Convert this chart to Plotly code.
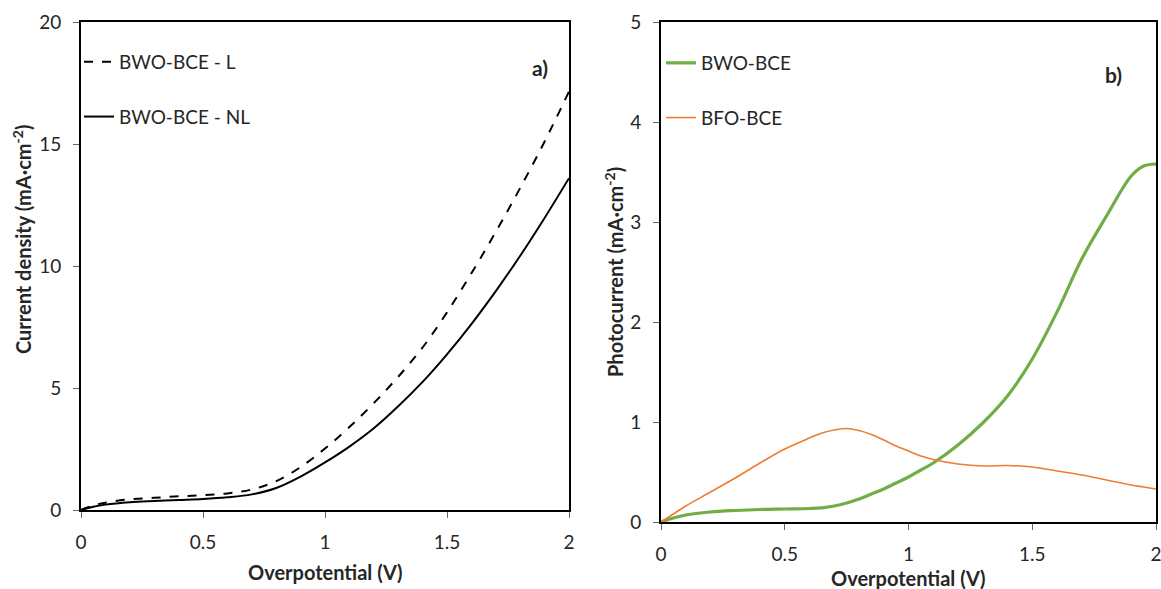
import plotly.graph_objects as go

# Panel a) data
v_a = [0, 0.05, 0.1, 0.2, 0.3, 0.4, 0.5, 0.6, 0.7, 0.8, 0.9, 1.0, 1.1, 1.2, 1.3, 1.4, 1.5, 1.6, 1.7, 1.8, 1.9, 2.0]
j_L = [0, 0.18, 0.3, 0.44, 0.5, 0.56, 0.61, 0.68, 0.84, 1.18, 1.76, 2.52, 3.4, 4.38, 5.46, 6.66, 8.1, 9.7, 11.4, 13.2, 15.1, 17.15]
j_NL = [0, 0.13, 0.22, 0.32, 0.37, 0.41, 0.45, 0.52, 0.64, 0.9, 1.37, 1.95, 2.6, 3.35, 4.25, 5.25, 6.38, 7.62, 8.97, 10.42, 11.97, 13.6]

# Panel b) data
v_b = [0, 0.05, 0.1, 0.2, 0.3, 0.4, 0.5, 0.6, 0.65, 0.7, 0.75, 0.8, 0.85, 0.9, 0.95, 1.0, 1.05, 1.1, 1.2, 1.3, 1.4, 1.5, 1.6, 1.7, 1.8, 1.9, 1.95, 2.0]
p_BWO = [0, 0.04, 0.07, 0.1, 0.115, 0.125, 0.13, 0.135, 0.142, 0.16, 0.19, 0.23, 0.28, 0.33, 0.39, 0.45, 0.52, 0.59, 0.77, 0.99, 1.26, 1.63, 2.1, 2.63, 3.06, 3.46, 3.56, 3.58]
p_BFO = [0, 0.08, 0.16, 0.3, 0.44, 0.59, 0.73, 0.84, 0.89, 0.92, 0.935, 0.915, 0.875, 0.82, 0.76, 0.71, 0.66, 0.625, 0.58, 0.56, 0.565, 0.55, 0.51, 0.47, 0.42, 0.37, 0.35, 0.33]

x_ticks = [0, 0.5, 1, 1.5, 2]
x_ticklabels = ["0", "0.5", "1", "1.5", "2"]
ya_ticks = [0, 5, 10, 15, 20]
yb_ticks = [0, 1, 2, 3, 4, 5]

FONT = "Lato"
TXT = "#262626"
W, H = 1161, 589

fig = go.Figure()
fig.add_trace(go.Scatter(x=v_a, y=j_L, mode="lines", name="BWO-BCE - L", legendgroup="L",
                         line=dict(color="black", width=2, dash="dash", shape="spline"), xaxis="x", yaxis="y", legend="legend"))
fig.add_trace(go.Scatter(x=v_a, y=j_NL, mode="lines", name="BWO-BCE - NL", legendgroup="NL",
                         line=dict(color="black", width=2, shape="spline"), xaxis="x", yaxis="y", legend="legend"))
fig.add_trace(go.Scatter(x=v_b, y=p_BWO, mode="lines", name="BWO-BCE", legendgroup="BWO",
                         line=dict(color="#70AD47", width=3.2, shape="spline"), xaxis="x2", yaxis="y2", legend="legend2"))
fig.add_trace(go.Scatter(x=v_b, y=p_BFO, mode="lines", name="BFO-BCE", legendgroup="BFO",
                         line=dict(color="#ED7D31", width=1.6, shape="spline"), xaxis="x2", yaxis="y2", legend="legend2"))

def px(x):
    return x / W
def py(y):
    return 1 - y / H

axis_common = dict(showline=True, linecolor="black", linewidth=2, mirror=True, ticks="outside", ticklen=6,
                   tickcolor="#666", showgrid=False, zeroline=False, ticklabelstandoff=8, automargin=False,
                   ticklabeloverflow="allow",
                   tickfont=dict(family=FONT, size=19, color=TXT))

legend_common = dict(bgcolor="rgba(0,0,0,0)", font=dict(family=FONT, size=19, color=TXT), itemwidth=30,
                     xanchor="left", yanchor="top", tracegroupgap=27, orientation="v")

def ann(text, x, y, size=20, angle=0):
    return dict(text=text, x=px(x), y=py(y), xref="paper", yref="paper", showarrow=False,
                xanchor="center", yanchor="middle", textangle=angle,
                font=dict(family=FONT, size=size, color=TXT, weight="bold"))

fig.update_layout(
    width=W, height=H, margin=dict(l=0, r=0, t=0, b=0, autoexpand=False),
    paper_bgcolor="white", plot_bgcolor="white", showlegend=True,
    xaxis=dict(domain=[px(81), px(569)], range=[0, 2], tickvals=x_ticks, ticktext=x_ticklabels, anchor="y", **axis_common),
    yaxis=dict(domain=[py(510), py(22)], range=[0, 20], tickvals=ya_ticks, anchor="x", **axis_common),
    xaxis2=dict(domain=[px(661), px(1156)], range=[0, 2], tickvals=x_ticks, ticktext=x_ticklabels, anchor="y2", **axis_common),
    yaxis2=dict(domain=[py(522), py(22)], range=[0, 5], tickvals=yb_ticks, anchor="x2", **axis_common),
    legend=dict(x=px(79), y=py(43), **legend_common),
    legend2=dict(x=px(661), y=py(44), **legend_common),
    annotations=[
        ann("a)", 540, 68, 21),
        ann("b)", 1113, 75, 21),
        ann("Overpotential (V)", 325, 572),
        ann("Overpotential (V)", 908, 578),
        ann("Current density (mA·cm<sup>-2</sup>)", 22, 240, angle=-90),
        ann("Photocurrent (mA·cm<sup>-2</sup>)", 614, 272, angle=-90),
    ],
)

fig.write_html("out.html")
